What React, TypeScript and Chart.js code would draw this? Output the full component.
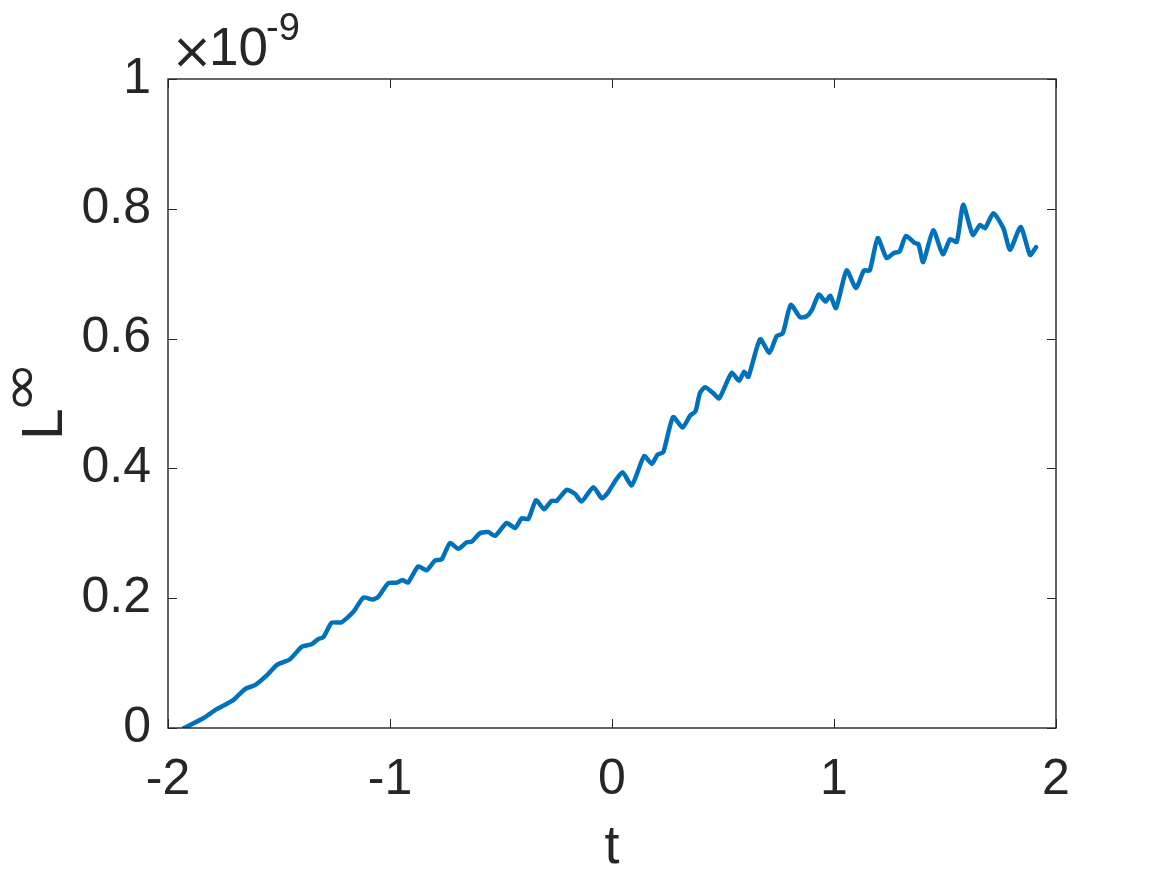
import React, { useEffect, useRef } from "react";
import { Chart, registerables } from "chart.js";

Chart.register(...registerables);

// Time values t
const tValues = [
  -1.928, -1.841, -1.781, -1.706, -1.653, -1.608, -1.555, -1.51, -1.45, -1.398,
  -1.353, -1.323, -1.3, -1.263, -1.218, -1.165, -1.12, -1.078, -1.053, -1.008,
  -0.97, -0.943, -0.919, -0.873, -0.835, -0.797, -0.767, -0.73, -0.692, -0.655,
  -0.632, -0.595, -0.557, -0.527, -0.474, -0.437, -0.407, -0.377, -0.342, -0.306,
  -0.272, -0.249, -0.204, -0.167, -0.137, -0.084, -0.046, -0.02, 0.017, 0.048,
  0.089, 0.145, 0.179, 0.205, 0.231, 0.275, 0.318, 0.351, 0.376, 0.396,
  0.419, 0.456, 0.483, 0.539, 0.573, 0.595, 0.614, 0.667, 0.709, 0.742,
  0.769, 0.805, 0.847, 0.875, 0.9, 0.932, 0.962, 0.983, 1.009, 1.057,
  1.099, 1.135, 1.161, 1.197, 1.237, 1.27, 1.295, 1.324, 1.365, 1.38,
  1.402, 1.447, 1.49, 1.523, 1.553, 1.582, 1.625, 1.658, 1.68, 1.718,
  1.763, 1.793, 1.841, 1.883, 1.91,
];

// L-infinity error, in units of 1e-9
const lInfValues = [
  0.0, 0.015, 0.029, 0.043, 0.06, 0.066, 0.081, 0.097, 0.106, 0.125,
  0.129, 0.137, 0.14, 0.162, 0.163, 0.179, 0.201, 0.198, 0.202, 0.223,
  0.224, 0.228, 0.224, 0.249, 0.243, 0.258, 0.26, 0.285, 0.276, 0.286,
  0.287, 0.3, 0.302, 0.296, 0.316, 0.308, 0.323, 0.322, 0.351, 0.337,
  0.35, 0.35, 0.367, 0.361, 0.349, 0.371, 0.354, 0.362, 0.382, 0.394,
  0.374, 0.419, 0.407, 0.421, 0.425, 0.479, 0.463, 0.481, 0.488, 0.516,
  0.525, 0.516, 0.508, 0.547, 0.535, 0.549, 0.541, 0.599, 0.578, 0.604,
  0.608, 0.652, 0.633, 0.634, 0.644, 0.668, 0.657, 0.666, 0.647, 0.705,
  0.678, 0.705, 0.705, 0.755, 0.724, 0.732, 0.734, 0.758, 0.747, 0.746,
  0.718, 0.767, 0.73, 0.753, 0.749, 0.806, 0.76, 0.775, 0.77, 0.793,
  0.77, 0.737, 0.772, 0.729, 0.741,
];

const xTickValues = [-2, -1, 0, 1, 2];
const yTickValues = [0, 0.2, 0.4, 0.6, 0.8, 1];
const xTitle = "t";
const yTitleBase = "L";
const yTitleSup = "\u221E";
const exponentTimes = "\u00D7";
const exponentBase = "10";
const exponentPower = "-9";

const FONT = '"Liberation Sans", Arial, Helvetica, sans-serif';
const INK = "#262626";

const decorPlugin = {
  id: "matlabDecor",
  afterDraw(chart: any) {
    const ctx = chart.ctx as CanvasRenderingContext2D;
    const { left, right, top, bottom } = chart.chartArea;
    const xs = chart.scales.x;
    const ys = chart.scales.y;
    ctx.save();
    ctx.strokeStyle = INK;
    ctx.lineWidth = 1.4;
    ctx.strokeRect(left, top, right - left, bottom - top);
    const tl = 9;
    ctx.beginPath();
    xTickValues.forEach((v) => {
      const px = Math.round(xs.getPixelForValue(v)) + 0.5;
      ctx.moveTo(px, bottom);
      ctx.lineTo(px, bottom - tl);
      ctx.moveTo(px, top);
      ctx.lineTo(px, top + tl);
    });
    yTickValues.forEach((v) => {
      const py = Math.round(ys.getPixelForValue(v)) + 0.5;
      ctx.moveTo(left, py);
      ctx.lineTo(left + tl, py);
      ctx.moveTo(right, py);
      ctx.lineTo(right - tl, py);
    });
    ctx.lineWidth = 1;
    ctx.stroke();

    ctx.fillStyle = INK;
    ctx.textBaseline = "alphabetic";
    // x title
    ctx.font = `54px ${FONT}`;
    ctx.textAlign = "center";
    ctx.fillText(xTitle, (left + right) / 2, 863);

    // y title (rotated)
    ctx.save();
    ctx.translate(62, 437);
    ctx.rotate(-Math.PI / 2);
    ctx.textAlign = "left";
    ctx.font = `57px ${FONT}`;
    ctx.fillText(yTitleBase, -3, 0);
    // superscript infinity fitted to its box
    ctx.font = `50px "DejaVu Sans", sans-serif`;
    const m = ctx.measureText(yTitleSup);
    const gw = m.actualBoundingBoxLeft + m.actualBoundingBoxRight || 40;
    const gh = m.actualBoundingBoxAscent + m.actualBoundingBoxDescent || 21;
    ctx.translate(30, -29);
    ctx.scale(40 / gw, 21 / gh);
    ctx.fillText(yTitleSup, m.actualBoundingBoxLeft, -m.actualBoundingBoxDescent);
    ctx.restore();

    // exponent label
    ctx.textAlign = "left";
    ctx.font = `50px "DejaVu Sans", sans-serif`;
    ctx.fillText(exponentTimes, 171, 68);
    ctx.font = `53px ${FONT}`;
    ctx.fillText(exponentBase, 209, 65);
    ctx.font = `38px ${FONT}`;
    ctx.fillText(exponentPower, 266, 40);
    ctx.restore();
  },
};

export default function App() {
  const canvasRef = useRef<HTMLCanvasElement | null>(null);

  useEffect(() => {
    if (!canvasRef.current) return;
    const points = tValues.map((t, i) => ({ x: t, y: lInfValues[i] }));
    const chart = new Chart(canvasRef.current, {
      type: "line",
      data: {
        datasets: [
          {
            data: points,
            borderColor: "#0072BD",
            borderWidth: 4.5,
            pointRadius: 0,
            tension: 0.2,
            fill: false,
            borderJoinStyle: "round",
            borderCapStyle: "round",
          } as any,
        ],
      },
      options: {
        responsive: false,
        animation: false,
        devicePixelRatio: 1,
        layout: { padding: { top: 79, right: 111, left: 0, bottom: 0 } },
        plugins: {
          legend: { display: false },
          tooltip: { enabled: false },
        },
        scales: {
          x: {
            type: "linear",
            min: -2,
            max: 2,
            afterBuildTicks: (s: any) => {
              s.ticks = xTickValues.map((v) => ({ value: v }));
            },
            afterFit: (s: any) => {
              s.height = 147;
            },
            grid: { display: false },
            border: { display: false },
            ticks: {
              color: INK,
              font: { size: 50, family: FONT },
              padding: 14,
              maxRotation: 0,
              autoSkip: false,
              callback: (v: any) => String(v),
            },
          },
          y: {
            type: "linear",
            min: 0,
            max: 1,
            afterBuildTicks: (s: any) => {
              s.ticks = yTickValues.map((v) => ({ value: v }));
            },
            afterFit: (s: any) => {
              s.width = 168;
            },
            grid: { display: false },
            border: { display: false },
            ticks: {
              color: INK,
              font: { size: 50, family: FONT },
              padding: 9,
              autoSkip: false,
              callback: (v: any) => String(Math.round(v * 10) / 10),
            },
          },
        },
      },
      plugins: [decorPlugin],
    });
    return () => chart.destroy();
  }, []);

  return (
    <div style={{ position: "absolute", left: 0, top: 0, width: 1167, height: 875, background: "#fff" }}>
      <canvas ref={canvasRef} width={1167} height={875} style={{ display: "block" }} />
    </div>
  );
}
